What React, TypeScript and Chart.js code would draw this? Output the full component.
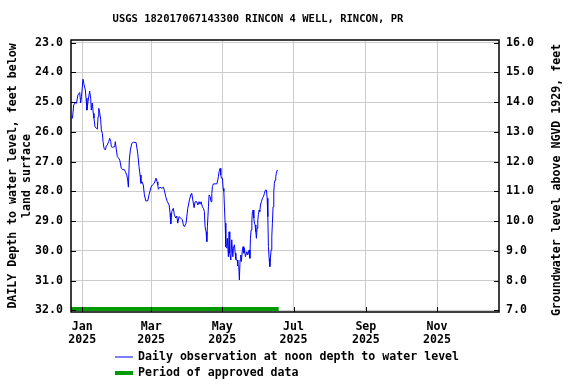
import React, { useEffect, useRef } from "react";
import { Chart, registerables } from "chart.js";

Chart.register(...registerables);

const chartTitle = "USGS 182017067143300 RINCON 4 WELL, RINCON, PR";
const leftAxisTitle = ["DAILY Depth to water level, feet below", "land surface"];
const rightAxisTitle = "Groundwater level above NGVD 1929, feet";
const seriesLabel = "Daily observation at noon depth to water level";
const approvedLabel = "Period of approved data";

// days since 2025-01-01
const obsDays = [
  -9.4, -8.4, -7.4, -6.0, -5.0, -3.7, -2.2, -1.4, -0.7, 0.6, 1.5, 2.6, 3.2, 4.0, 4.9, 6.3, 7.2, 7.7, 8.6, 9.4,
  10.0, 10.9, 12.0, 12.9, 13.5, 14.1, 14.9, 15.8, 16.3, 17.2, 17.8, 18.6, 19.7, 20.6, 21.4, 22.6, 23.5, 24.4, 24.9, 25.7,
  27.8, 28.3, 29.2, 30.0, 31.2, 32.1, 33.4, 34.9, 35.8, 36.9, 38.1, 38.9, 39.5, 40.3, 41.2, 42.4, 43.7, 46.1, 47.5, 48.6,
  49.5, 50.3, 51.2, 52.3, 53.2, 54.4, 56.1, 57.2, 58.9, 60.0, 61.7, 63.2, 64.1, 64.7, 65.2, 66.6, 68.1, 69.5, 70.3, 71.5,
  72.9, 74.4, 75.2, 75.8, 76.7, 78.0, 78.9, 80.1, 81.0, 81.8, 82.9, 84.4, 85.8, 86.6, 87.5, 88.9, 90.4, 91.8, 93.2, 93.8,
  94.7, 95.8, 96.7, 98.1, 99.0, 100.1, 100.9, 101.8, 102.9, 103.8, 104.6, 105.2, 106.1, 106.7, 107.2, 108.1, 108.7, 109.5, 110.4, 111.0,
  111.5, 112.4, 115.3, 116.1, 116.6, 117.2, 118.1, 118.7, 119.2, 120.1, 120.7, 121.3, 121.8, 122.4, 123.0, 123.8, 124.3, 125.2, 125.8, 126.4,
  127.3, 128.1, 129.0, 129.5, 130.4, 131.0, 131.6, 132.7, 133.3, 134.1, 134.6, 135.2, 135.8, 136.3, 137.2, 137.8, 138.4, 138.9, 139.8, 141.0,
  141.8, 143.0, 143.6, 144.1, 144.7, 145.3, 145.8, 146.4, 147.0, 147.5, 148.1, 148.7, 149.2, 149.8, 150.4, 150.9, 151.5, 152.1, 152.7, 153.5,
  154.4, 155.2, 156.1, 156.9, 157.8, 158.4, 159.0, 159.5, 160.1, 160.7, 161.2, 161.8, 162.4, 162.9, 163.5, 164.1, 164.6, 165.2, 165.8, 166.3,
  167.2,
];

// feet below land surface
const obsDepths = [
  25.54, 25.54, 25.10, 25.02, 25.04, 24.76, 24.68, 25.03, 24.82, 24.23, 24.42, 24.59, 24.87, 25.27, 24.99, 24.63, 24.87, 25.27, 25.03, 25.38,
  25.54, 25.83, 25.88, 25.91, 25.49, 25.21, 25.36, 25.60, 25.94, 26.05, 26.33, 26.55, 26.61, 26.48, 26.44, 26.33, 26.22, 26.33, 26.50, 26.52,
  26.50, 26.33, 26.61, 26.83, 26.89, 26.95, 27.22, 27.28, 27.26, 27.34, 27.45, 27.62, 27.86, 26.95, 26.61, 26.39, 26.35, 26.36, 26.72, 27.17,
  27.45, 27.73, 27.68, 27.79, 28.12, 28.32, 28.32, 28.12, 27.86, 27.79, 27.73, 27.56, 27.68, 27.79, 27.93, 27.86, 27.90, 27.86, 27.96, 28.18,
  28.35, 28.46, 28.74, 29.10, 28.68, 28.57, 28.79, 28.90, 28.83, 29.07, 28.85, 28.90, 28.96, 29.13, 29.19, 29.07, 28.57, 28.29, 28.09, 28.07,
  28.29, 28.55, 28.35, 28.35, 28.46, 28.35, 28.43, 28.35, 28.52, 28.57, 28.68, 29.19, 29.36, 29.69, 29.19, 28.52, 28.12, 28.18, 28.35, 28.07,
  27.84, 27.75, 27.75, 27.62, 27.51, 27.34, 27.23, 27.45, 27.56, 27.56, 27.90, 28.00, 28.52, 29.07, 29.86, 29.91, 29.58, 30.20, 29.36, 30.08,
  30.31, 29.63, 30.20, 29.91, 29.80, 30.08, 30.29, 30.31, 30.51, 30.53, 30.98, 30.31, 30.14, 30.36, 29.97, 29.86, 30.08, 29.91, 30.20, 30.03,
  30.14, 29.97, 30.25, 29.58, 29.30, 28.96, 28.68, 28.63, 28.90, 29.07, 29.13, 29.36, 29.58, 29.24, 28.96, 28.79, 28.63, 28.68, 28.46, 28.35,
  28.23, 28.18, 28.07, 27.96, 27.96, 28.23, 28.85, 29.86, 30.25, 30.53, 30.25, 29.97, 29.52, 29.07, 28.52, 28.00, 27.73, 27.62, 27.51, 27.39,
  27.28,
];

const approvedDays = [-9.7, 168.3];
const approvedDepth = [31.955, 31.955];

const tickDays = [0, 59, 120, 181, 243, 304];
const tickMonths = ["Jan", "Mar", "May", "Jul", "Sep", "Nov"];
const tickYear = "2025";

const depthTicks = [23, 24, 25, 26, 27, 28, 29, 30, 31, 32];
const elevTicks = [7, 8, 9, 10, 11, 12, 13, 14, 15, 16];
const landSurface = 39;

const FONT = "'DejaVu Sans Mono', monospace";

export default function App() {
  const ref = useRef<HTMLCanvasElement | null>(null);

  useEffect(() => {
    if (!ref.current) return;

    const overlay = {
      id: "overlay",
      afterDraw(chart: any) {
        const { ctx, chartArea: a, scales } = chart;
        ctx.save();
        // inward ticks
        ctx.strokeStyle = "#000";
        ctx.lineWidth = 1;
        ctx.beginPath();
        depthTicks.forEach((v) => {
          const y = Math.round(scales.y.getPixelForValue(v)) + 0.5;
          ctx.moveTo(a.left, y);
          ctx.lineTo(a.left + 5, y);
        });
        elevTicks.forEach((v) => {
          const y = Math.round(scales.y2.getPixelForValue(v)) + 0.5;
          ctx.moveTo(a.right, y);
          ctx.lineTo(a.right - 5, y);
        });
        tickDays.forEach((d) => {
          const x = Math.round(scales.x.getPixelForValue(d)) + 0.5;
          ctx.moveTo(x, a.bottom);
          ctx.lineTo(x, a.bottom - 5);
        });
        ctx.stroke();
        // frame
        ctx.strokeStyle = "#000";
        ctx.lineWidth = 1.5;
        ctx.strokeRect(a.left, a.top, a.right - a.left, a.bottom - a.top);

        // title
        ctx.fillStyle = "#000";
        ctx.font = `bold 10.5px ${FONT}`;
        ctx.textAlign = "center";
        ctx.textBaseline = "middle";
        ctx.fillText(chartTitle, 258, 19);

        // right axis title
        ctx.font = `bold 11.6px ${FONT}`;
        ctx.save();
        ctx.translate(557, 180);
        ctx.rotate(-Math.PI / 2);
        ctx.fillText(rightAxisTitle, 0, 0);
        ctx.restore();

        // legend
        const ds = chart.data.datasets;
        const rows = [357, 373];
        rows.forEach((y, i) => {
          ctx.strokeStyle = ds[i].borderColor;
          ctx.lineWidth = ds[i].borderWidth;
          ctx.beginPath();
          ctx.moveTo(115, y);
          ctx.lineTo(133, y);
          ctx.stroke();
          ctx.fillStyle = "#000";
          ctx.textAlign = "left";
          ctx.fillText(ds[i].label, 138, y);
        });
        ctx.restore();
      },
    };

    const chart = new Chart(ref.current, {
      type: "line",
      data: {
        datasets: [
          {
            label: seriesLabel,
            data: obsDays.map((d, i) => ({ x: d, y: obsDepths[i] })),
            borderColor: "#0000ff",
            borderWidth: 1,
            pointRadius: 0,
            tension: 0,
            yAxisID: "y",
          },
          {
            label: approvedLabel,
            data: approvedDays.map((d, i) => ({ x: d, y: approvedDepth[i] })),
            borderColor: "#009900",
            borderWidth: 4,
            pointRadius: 0,
            yAxisID: "y",
          },
        ],
      },
      options: {
        responsive: false,
        animation: false,
        events: [],
        layout: { padding: { top: 40, left: 0, right: 0, bottom: 0 } },
        plugins: {
          legend: { display: false },
          title: { display: false },
          tooltip: { enabled: false },
        },
        scales: {
          x: {
            type: "linear",
            min: -9.68,
            max: 357.1,
            afterBuildTicks: (s: any) => {
              s.ticks = tickDays.map((v) => ({ value: v }));
            },
            afterFit: (s: any) => {
              s.height = 72;
            },
            ticks: {
              autoSkip: false,
              maxRotation: 0,
              padding: 8,
              color: "#000",
              font: { family: FONT, size: 11.6, weight: "bold", lineHeight: 1.17 },
              callback: (v: any) => {
                const i = tickDays.indexOf(Number(v));
                return i >= 0 ? [tickMonths[i], tickYear] : "";
              },
            },
            grid: { color: "#cccccc", lineWidth: 1, drawTicks: false },
            border: { display: false },
          },
          y: {
            type: "linear",
            position: "left",
            reverse: true,
            min: 22.913,
            max: 32.057,
            afterBuildTicks: (s: any) => {
              s.ticks = depthTicks.map((v) => ({ value: v }));
            },
            afterFit: (s: any) => {
              s.width = 71;
            },
            ticks: {
              padding: 8,
              color: "#000",
              font: { family: FONT, size: 11.6, weight: "bold" },
              callback: (v: any) => Number(v).toFixed(1),
            },
            grid: { color: "#cccccc", lineWidth: 1, drawTicks: false },
            border: { display: false },
            title: {
              display: true,
              text: leftAxisTitle,
              color: "#000",
              padding: { top: 6, bottom: 0 },
              font: { family: FONT, size: 11.6, weight: "bold", lineHeight: 1.2 },
            },
          },
          y2: {
            type: "linear",
            position: "right",
            min: landSurface - 32.057,
            max: landSurface - 22.913,
            afterBuildTicks: (s: any) => {
              s.ticks = elevTicks.map((v) => ({ value: v }));
            },
            afterFit: (s: any) => {
              s.width = 77;
            },
            ticks: {
              padding: 7,
              color: "#000",
              font: { family: FONT, size: 11.6, weight: "bold" },
              callback: (v: any) => Number(v).toFixed(1),
            },
            grid: { display: false, drawTicks: false },
            border: { display: false },
          },
        },
      },
      plugins: [overlay],
    });

    return () => chart.destroy();
  }, []);

  return (
    <div style={{ position: "absolute", left: 0, top: 0, width: 576, height: 384, background: "#fff" }}>
      <canvas ref={ref} width={576} height={384} style={{ display: "block" }} />
    </div>
  );
}
